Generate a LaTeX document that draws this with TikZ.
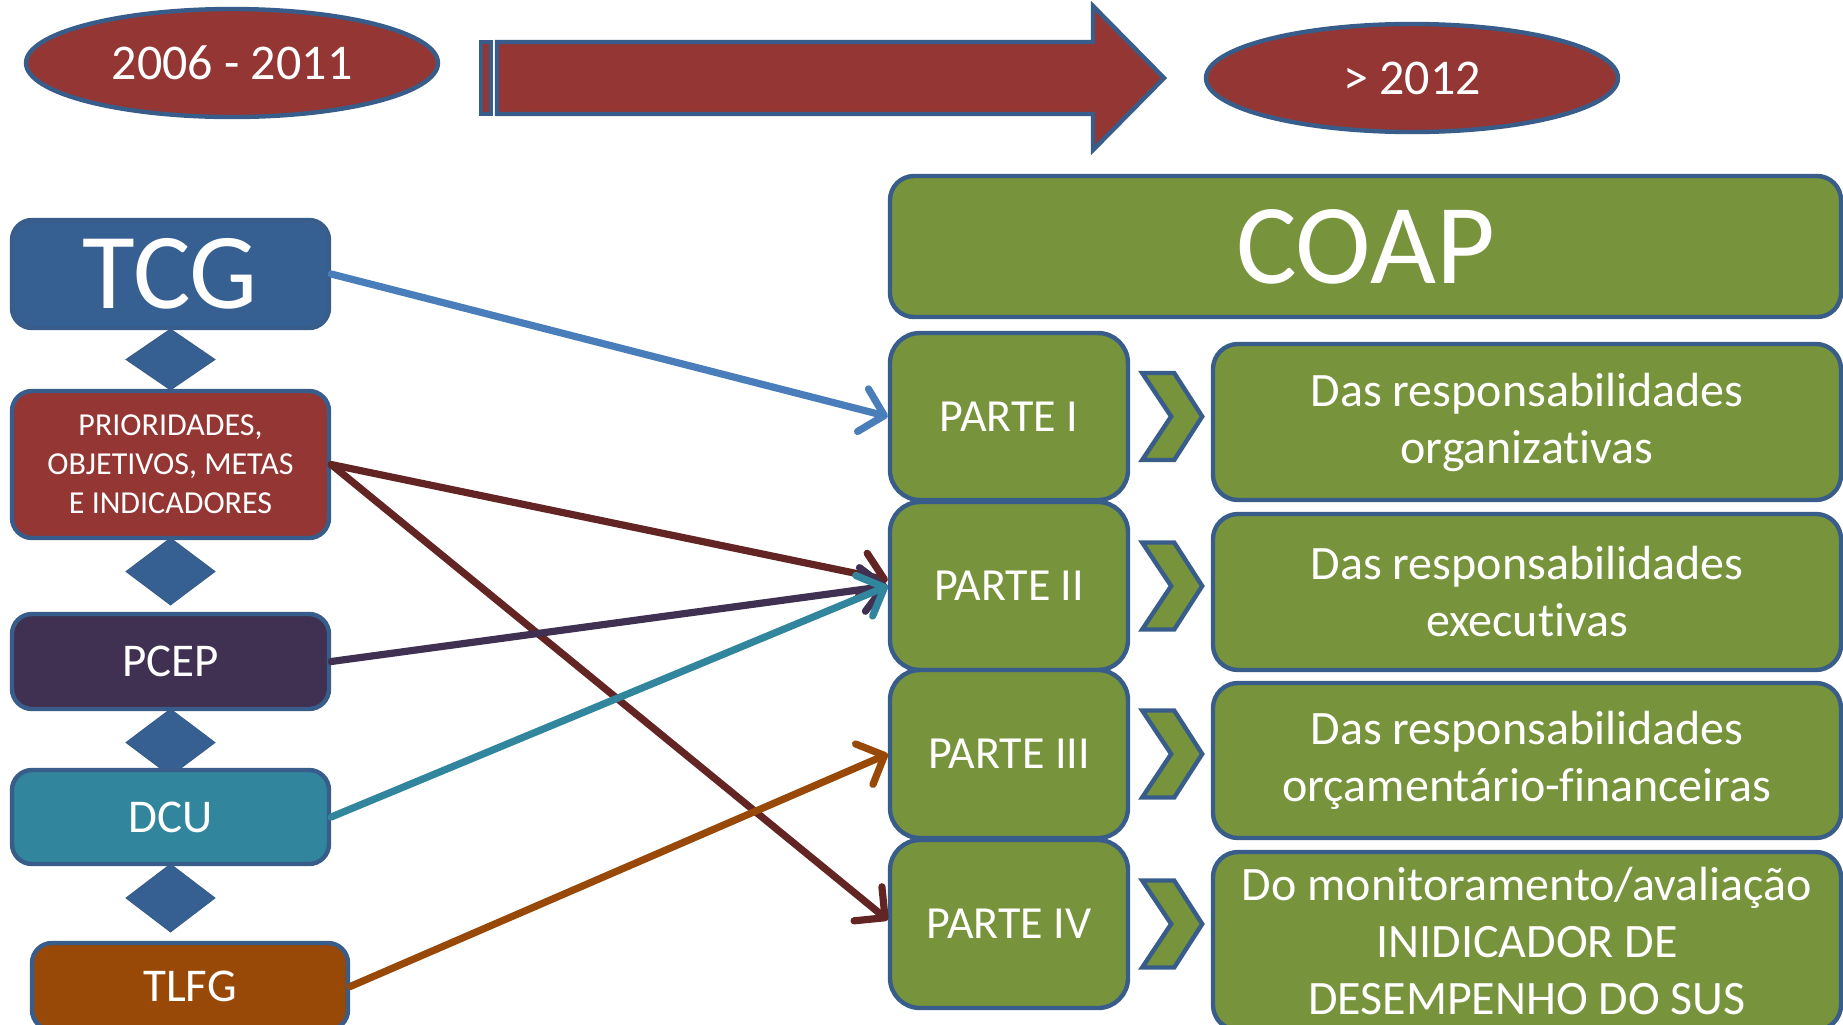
\documentclass[tikz,border=0pt]{standalone}
\usepackage{fontspec}
\setmainfont{Carlito}[Ligatures={NoCommon,NoContextual},RawFeature={-liga;-clig;-calt}]
\usetikzlibrary{shapes.geometric,arrows.meta}
\definecolor{outl}{HTML}{385D8A}
\definecolor{brick}{HTML}{943634}
\definecolor{navy}{HTML}{376092}
\definecolor{plum}{HTML}{403152}
\definecolor{teal}{HTML}{31859C}
\definecolor{rust}{HTML}{984807}
\definecolor{olive}{HTML}{77933C}
\definecolor{sky}{HTML}{4A7EBB}
\definecolor{wine}{HTML}{632523}
\begin{document}
\begin{tikzpicture}[
        x=0.5pt, y=-0.5pt,
        period/.style={ellipse,draw=outl,line width=2.2pt,fill=brick,text=white,
            inner sep=0pt,minimum width=206pt,minimum height=54pt,
            font=\fontsize{25}{30}\selectfont},
        leftbox/.style={rectangle,rounded corners=10pt,draw=outl,line width=2.2pt,
            fill=#1,text=white,inner sep=0pt,minimum width=158.5pt,align=center},
        link/.style={diamond,fill=navy,draw=outl,line width=0.6pt,inner sep=0pt,
            minimum width=44.5pt},
        parte/.style={rectangle,rounded corners=15pt,draw=outl,line width=2.2pt,
            fill=olive,text=white,inner sep=0pt,minimum width=119pt,minimum height=84pt,
            font=\fontsize{23}{28}\selectfont},
        resp/.style={rectangle,rounded corners=12.5pt,draw=outl,line width=2.2pt,
            fill=olive,text=white,inner sep=0pt,minimum width=314pt,minimum height=78pt,
            align=center,font=\fontsize{24}{28.5}\selectfont},
        chev/.style={draw=outl,line width=2.2pt,fill=olive,line join=miter},
        feed/.style={line width=3.6pt,line cap=round,
            -{Straight Barb[length=11pt,width=22pt,round]}}
    ]
        \useasboundingbox (0,0) rectangle (1843,1024);
        \node[period] (old) at (232,63) {2006 - 2011};
        \node[period] (new) at (1412,78) {> 2012};
        \filldraw[fill=brick,draw=outl,line width=2.2pt] (481,42) rectangle (491,114);
        \filldraw[fill=brick,draw=outl,line width=2.2pt,line join=miter]
            (497,42) -- (1093,42) -- (1093,6) -- (1164,78) -- (1093,150) -- (1093,114) -- (497,114) -- cycle;
        \node[link,minimum height=30.5pt] (d1) at (170.5,359.5) {};
        \node[link,minimum height=33.5pt] (d2) at (170.5,571.5) {};
        \node[link,minimum height=33.5pt] (d3) at (170.5,742.5) {};
        \node[link,minimum height=34pt] (d4) at (170.5,898) {};
        \node[leftbox=navy,minimum height=54pt,font=\fontsize{54}{60}\selectfont] (tcg) at (170.5,274) {TCG};
        \node[leftbox=brick,minimum height=73.5pt,font=\fontsize{16}{19.5}\selectfont] (pri) at (170.5,464.5)
            {PRIORIDADES,\\OBJETIVOS, METAS\\E INDICADORES};
        \node[leftbox=plum,minimum height=47.5pt,font=\fontsize{23.5}{28}\selectfont] (pcep) at (170.5,661.5) {PCEP};
        \node[leftbox=teal,minimum height=47pt,font=\fontsize{23.5}{28}\selectfont] (dcu) at (170.5,817) {DCU};
        \node[leftbox=rust,minimum width=158pt,minimum height=43.5pt,font=\fontsize{23.5}{28}\selectfont] (tlfg) at (190,986.5) {TLFG};
        \node[resp,minimum width=475.5pt,minimum height=70.5pt,rounded corners=12pt,
            font=\fontsize{57}{62}\selectfont] (coap) at (1365.5,246.5) {COAP};
        \node[parte,minimum height=83.5pt] (p1) at (1009,416.5) {PARTE I};
        \node[parte] (p2) at (1009,586) {PARTE II};
        \node[parte] (p3) at (1009,754) {PARTE III};
        \node[parte] (p4) at (1009,924) {PARTE IV};
        \foreach \p in {p1,p2,p3,p4}
            \draw[chev,shift={(\p.east)}] (12,-43.5) -- (44,-43.5) -- (72,0) -- (44,43.5) -- (12,43.5) -- (41,0) -- cycle;
        \node[resp] (r1) at (1527,422) {Das responsabilidades\\organizativas};
        \node[resp] (r2) at (1527,592) {Das responsabilidades\\executivas};
        \node[resp,minimum height=77.5pt] (r3) at (1527,760.5) {Das responsabilidades\\orçamentário-financeiras};
        \node[resp,minimum height=89pt] (r4) at (1527,941) {Do monitoramento/avaliação\\INIDICADOR DE\\DESEMPENHO DO SUS};
        \draw[feed,sky] (tcg.east) -- (p1.west);
        \draw[feed,wine] (pri.east) -- ([yshift=3pt]p2.west);
        \draw[feed,wine] (pri.east) -- ([yshift=2pt]p4.west);
        \draw[feed,plum] (pcep.east) -- (p2.west);
        \draw[feed,teal] (dcu.east) -- (p2.west);
        \draw[feed,rust] (tlfg.east) -- (p3.west);
    \end{tikzpicture}
\end{document}
